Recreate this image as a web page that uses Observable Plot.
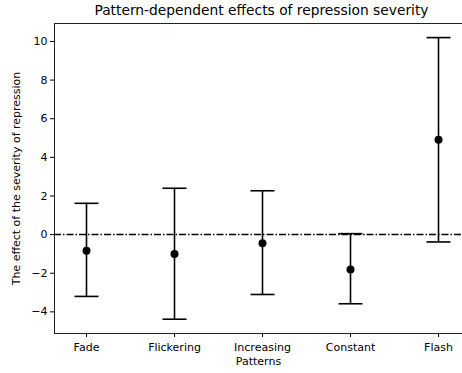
<!DOCTYPE html>
<html>
<head>
<meta charset="utf-8">
<script src="https://cdn.jsdelivr.net/npm/d3@7"></script>
<script src="https://cdn.jsdelivr.net/npm/@observablehq/plot@0.6"></script>
<style>
  html, body { margin: 0; padding: 0; background: #fff; }
  #wrap { position: relative; width: 462px; height: 373px; overflow: hidden; font-family: "DejaVu Sans", sans-serif; }
  #title { position: absolute; left: 54px; width: 415px; top: 2px; text-align: center; font-size: 13.8px; color: #000; line-height: 1.2; }
</style>
</head>
<body>
<div id="wrap"><div id="title">Pattern-dependent effects of repression severity</div></div>
<script>
const patterns = ["Fade", "Flickering", "Increasing", "Constant", "Flash"];
const means = [-0.83, -1.0, -0.45, -1.8, 4.91];
const lower = [-3.2, -4.38, -3.1, -3.58, -0.38];
const upper = [1.62, 2.4, 2.27, 0.05, 10.2];
const yTicks = [-4, -2, 0, 2, 4, 6, 8, 10];
const xLabel = "Patterns";
const yLabel = "The effect of the severity of repression";

const data = patterns.map((p, i) => ({pattern: p, mean: means[i], lo: lower[i], hi: upper[i]}));

// horizontal cap symbol
const capSymbol = {draw(context) { context.moveTo(-12, 0); context.lineTo(12, 0); }};

const chart = Plot.plot({
  width: 462,
  height: 373,
  marginLeft: 54,
  marginRight: 0,
  marginTop: 23,
  marginBottom: 40,
  style: {fontFamily: "DejaVu Sans, sans-serif", fontSize: "11px", color: "#000", background: "#fff"},
  x: {type: "point", domain: patterns, range: [84.3, 439.3], padding: 0},
  y: {domain: [-5.12, 10.93]},
  marks: [
    Plot.ruleY([0], {stroke: "#000", strokeWidth: 1.5, strokeDasharray: "7,2,1.5,2"}),
    Plot.ruleX(data, {x: "pattern", y1: "lo", y2: "hi", stroke: "#000", strokeWidth: 1.6}),
    Plot.dot(data, {x: "pattern", y: "hi", symbol: capSymbol, stroke: "#000", fill: "none", strokeWidth: 1.6}),
    Plot.dot(data, {x: "pattern", y: "lo", symbol: capSymbol, stroke: "#000", fill: "none", strokeWidth: 1.6}),
    Plot.dot(data, {x: "pattern", y: "mean", r: 4, fill: "#000", stroke: null}),
    Plot.frame({anchor: "left", stroke: "#222", strokeWidth: 1}),
    Plot.frame({anchor: "bottom", stroke: "#222", strokeWidth: 1}),
    Plot.frame({anchor: "top", stroke: "#222", strokeWidth: 1}),
    Plot.axisY({ticks: yTicks, tickSize: 4, tickPadding: 3, label: yLabel, labelAnchor: "center", labelArrow: "none", labelOffset: 42, fontSize: 11, tickFormat: d => d < 0 ? "\u2212" + Math.abs(d) : String(d)}),
    Plot.axisX({tickSize: 4, tickPadding: 6, label: xLabel, labelAnchor: "center", labelArrow: "none", labelOffset: 31, fontSize: 11})
  ]
});
chart.style.position = "absolute";
chart.style.left = "0";
chart.style.top = "0";
const wrap = document.getElementById("wrap");
wrap.insertBefore(chart, wrap.firstChild);
</script>
</body>
</html>
